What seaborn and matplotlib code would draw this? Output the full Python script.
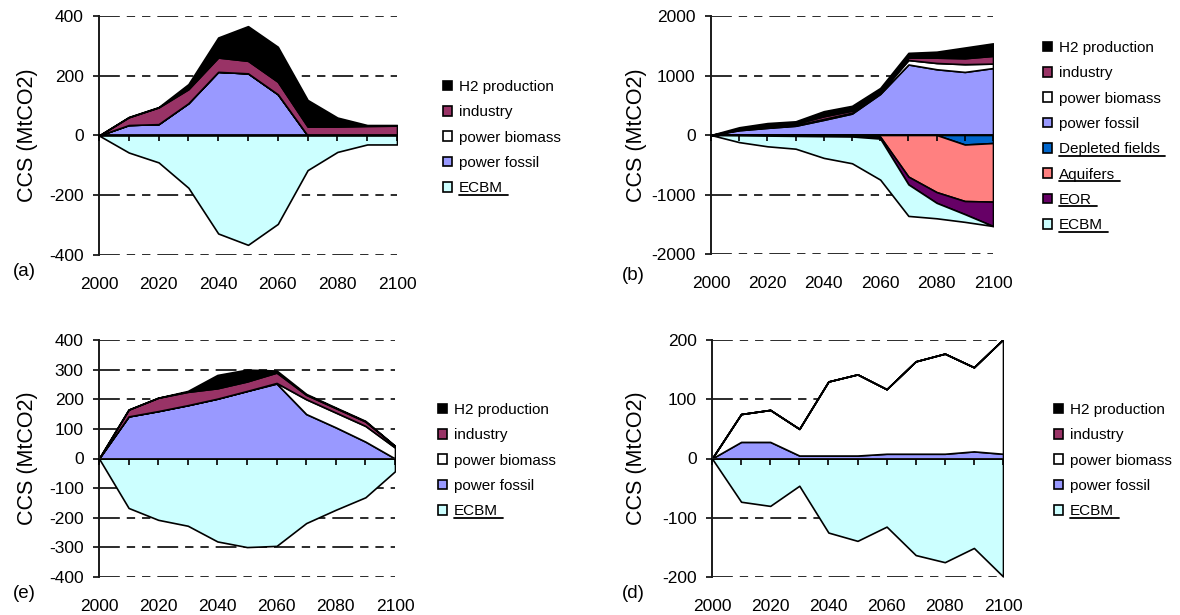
import numpy as np
import matplotlib
matplotlib.use("Agg")
import matplotlib.pyplot as plt
from matplotlib.patches import Patch
from matplotlib.lines import Line2D
import seaborn as sns

sns.set_theme(style="white")
plt.rcParams["font.family"] = ["Liberation Sans", "DejaVu Sans"]
plt.rcParams["axes.unicode_minus"] = False
plt.rcParams["lines.scale_dashes"] = False

years = [2000, 2010, 2020, 2030, 2040, 2050, 2060, 2070, 2080, 2090, 2100]

# (a)
a_fossil = [0, 35, 38, 108, 213, 208, 138, 0, 0, 0, 0]
a_biomass = [0, 0, 0, 0, 0, 0, 0, 0, 0, 0, 0]
a_industry = [0, 26, 56, 47, 48, 42, 42, 30, 30, 32, 33]
a_h2 = [0, 1, 1, 17, 67, 116, 117, 89, 30, 3, 2]
a_ecbm = [0, -57, -90, -175, -328, -366, -296, -116, -55, -30, -30]

# (b)
b_fossil = [0, 80, 120, 155, 255, 360, 690, 1185, 1105, 1060, 1125]
b_biomass = [0, 10, 10, 10, 15, 15, 20, 75, 105, 130, 75]
b_industry = [0, 10, 20, 25, 45, 35, 30, 40, 90, 100, 130]
b_h2 = [0, 30, 50, 40, 85, 80, 50, 80, 100, 180, 210]
b_depleted = [0, 0, 0, 0, 0, 0, 0, 0, 0, -160, -135]
b_aquifers = [0, 0, 0, 0, 0, 0, -30, -700, -960, -950, -985]
b_eor = [0, -5, -10, -15, -20, -25, -30, -130, -180, -220, -410]
b_ecbm = [0, -115, -180, -215, -365, -450, -690, -530, -260, -130, 0]

# (e)
e_fossil = [0, 142, 160, 180, 202, 228, 253, 150, 105, 57, 0]
e_biomass = [0, 0, 0, 0, 0, 0, 2, 50, 50, 53, 37]
e_industry = [0, 23, 45, 45, 35, 32, 35, 15, 15, 15, 5]
e_h2 = [0, 0, 0, 3, 45, 40, 7, 3, 2, 2, 1]
e_ecbm = [0, -167, -207, -227, -280, -299, -295, -218, -173, -131, -43]

# (d)
d_fossil = [0, 28, 28, 5, 5, 5, 8, 8, 8, 12, 8]
d_biomass = [0, 47, 54, 45, 125, 137, 109, 156, 169, 142, 193]
d_industry = [0, 0, 0, 0, 0, 0, 0, 0, 0, 0, 0]
d_h2 = [0, 0, 0, 0, 0, 0, 0, 0, 0, 0, 0]
d_ecbm = [0, -73, -80, -46, -125, -139, -115, -163, -175, -151, -199]

colors = {
    "H2 production": "#000000",
    "industry": "#993366",
    "power biomass": "#ffffff",
    "power fossil": "#9999ff",
    "Depleted fields": "#0066cc",
    "Aquifers": "#ff8080",
    "EOR": "#660066",
    "ECBM": "#ccffff",
}
underlined = {"Depleted fields", "Aquifers", "EOR", "ECBM"}

W, H = 1180, 615
fig = plt.figure(figsize=(W / 100, H / 100), dpi=100)
legends = []


def draw_panel(box, pos, neg, lim, step, tag, tag_xy, ylab_x, leg_xy):
    left, right, top, bottom = box
    ax = fig.add_axes([left / W, 1 - bottom / H, (right - left) / W, (bottom - top) / H])
    ax.stackplot(years, *pos.values(), colors=[colors[n] for n in pos],
                 edgecolor="black", linewidth=1.2, zorder=2)
    ax.stackplot(years, *neg.values(), colors=[colors[n] for n in neg],
                 edgecolor="black", linewidth=1.2, zorder=2)
    ax.set_xlim(2000, 2100)
    ax.set_ylim(-lim, lim)
    yt = np.arange(-lim, lim + 1, step)
    ax.set_yticks(yt)
    ax.set_yticklabels([str(int(v)) for v in yt])
    for v in yt:
        if v != 0:
            ax.axhline(v, color="#1a1a1a", lw=1.3, dashes=(15, 5, 6, 5, 6, 5), zorder=1)
    ax.set_xticks(range(2000, 2101, 20))
    ax.tick_params(axis="x", bottom=True, length=0, pad=16, labelsize=12.5, labelcolor="black")
    ax.tick_params(axis="y", left=True, length=4, width=1.3, direction="out", pad=7,
                   labelsize=12.5, color="#1a1a1a", labelcolor="black")
    for s in ["top", "right", "bottom"]:
        ax.spines[s].set_visible(False)
    ax.spines["left"].set_color("#1a1a1a")
    ax.spines["left"].set_linewidth(1.4)

    sec = ax.secondary_xaxis(0.5)
    sec.set_alignment("bottom")
    sec.set_xticks(range(2000, 2101, 10))
    sec.tick_params(axis="x", bottom=True, top=False, length=4, width=1.2, direction="out",
                    color="black", labelbottom=False, labeltop=False)
    sec.spines["bottom"].set_color("black")
    sec.spines["bottom"].set_linewidth(1.3)
    sec.set_zorder(5)

    fig.text(ylab_x / W, 1 - (top + bottom) / 2 / H, "CCS (MtCO2)", rotation=90,
             ha="center", va="center", fontsize=15.5, color="black")
    fig.text(tag_xy[0] / W, 1 - tag_xy[1] / H, tag, ha="left", va="center",
             fontsize=13.5, color="black")

    names = list(pos)[::-1] + list(neg)
    handles = [Patch(facecolor=colors[n], edgecolor="black", linewidth=1.2) for n in names]
    leg = fig.legend(handles, names, loc="upper left",
                     bbox_to_anchor=(leg_xy[0] / W, 1 - leg_xy[1] / H),
                     frameon=False, fontsize=11, handlelength=0.6, handleheight=0.6,
                     handletextpad=0.45, labelspacing=0.74, borderpad=0, borderaxespad=0)
    for t in leg.get_texts():
        t.set_color("black")
    legends.append(leg)
    return ax


def series(fossil, biomass, industry, h2):
    return {"power fossil": fossil, "power biomass": biomass,
            "industry": industry, "H2 production": h2}


draw_panel((99, 397, 16, 255), series(a_fossil, a_biomass, a_industry, a_h2),
           {"ECBM": a_ecbm}, 400, 200, "(a)", (13, 272), 28, (443, 80))
draw_panel((711, 993, 16, 254), series(b_fossil, b_biomass, b_industry, b_h2),
           {"Depleted fields": b_depleted, "Aquifers": b_aquifers, "EOR": b_eor,
            "ECBM": b_ecbm}, 2000, 1000, "(b)", (622, 276), 636, (1043, 41))
draw_panel((99, 395, 340, 577), series(e_fossil, e_biomass, e_industry, e_h2),
           {"ECBM": e_ecbm}, 400, 100, "(e)", (13, 594), 28, (438, 403))
draw_panel((712, 1003, 340, 577), series(d_fossil, d_biomass, d_industry, d_h2),
           {"ECBM": d_ecbm}, 200, 100, "(d)", (622, 594), 636, (1054, 403))

fig.canvas.draw()
inv = fig.transFigure.inverted()
for leg in legends:
    for t in leg.get_texts():
        if t.get_text() in underlined:
            bb = t.get_window_extent()
            (x0, y0), (x1, _) = inv.transform([(bb.x0, bb.y0 + 0.5), (bb.x1 + 5, bb.y0 + 0.5)])
            fig.add_artist(Line2D([x0, x1], [y0, y0], color="black", lw=1.3,
                                  transform=fig.transFigure))

fig.savefig("out.png", dpi=100)
